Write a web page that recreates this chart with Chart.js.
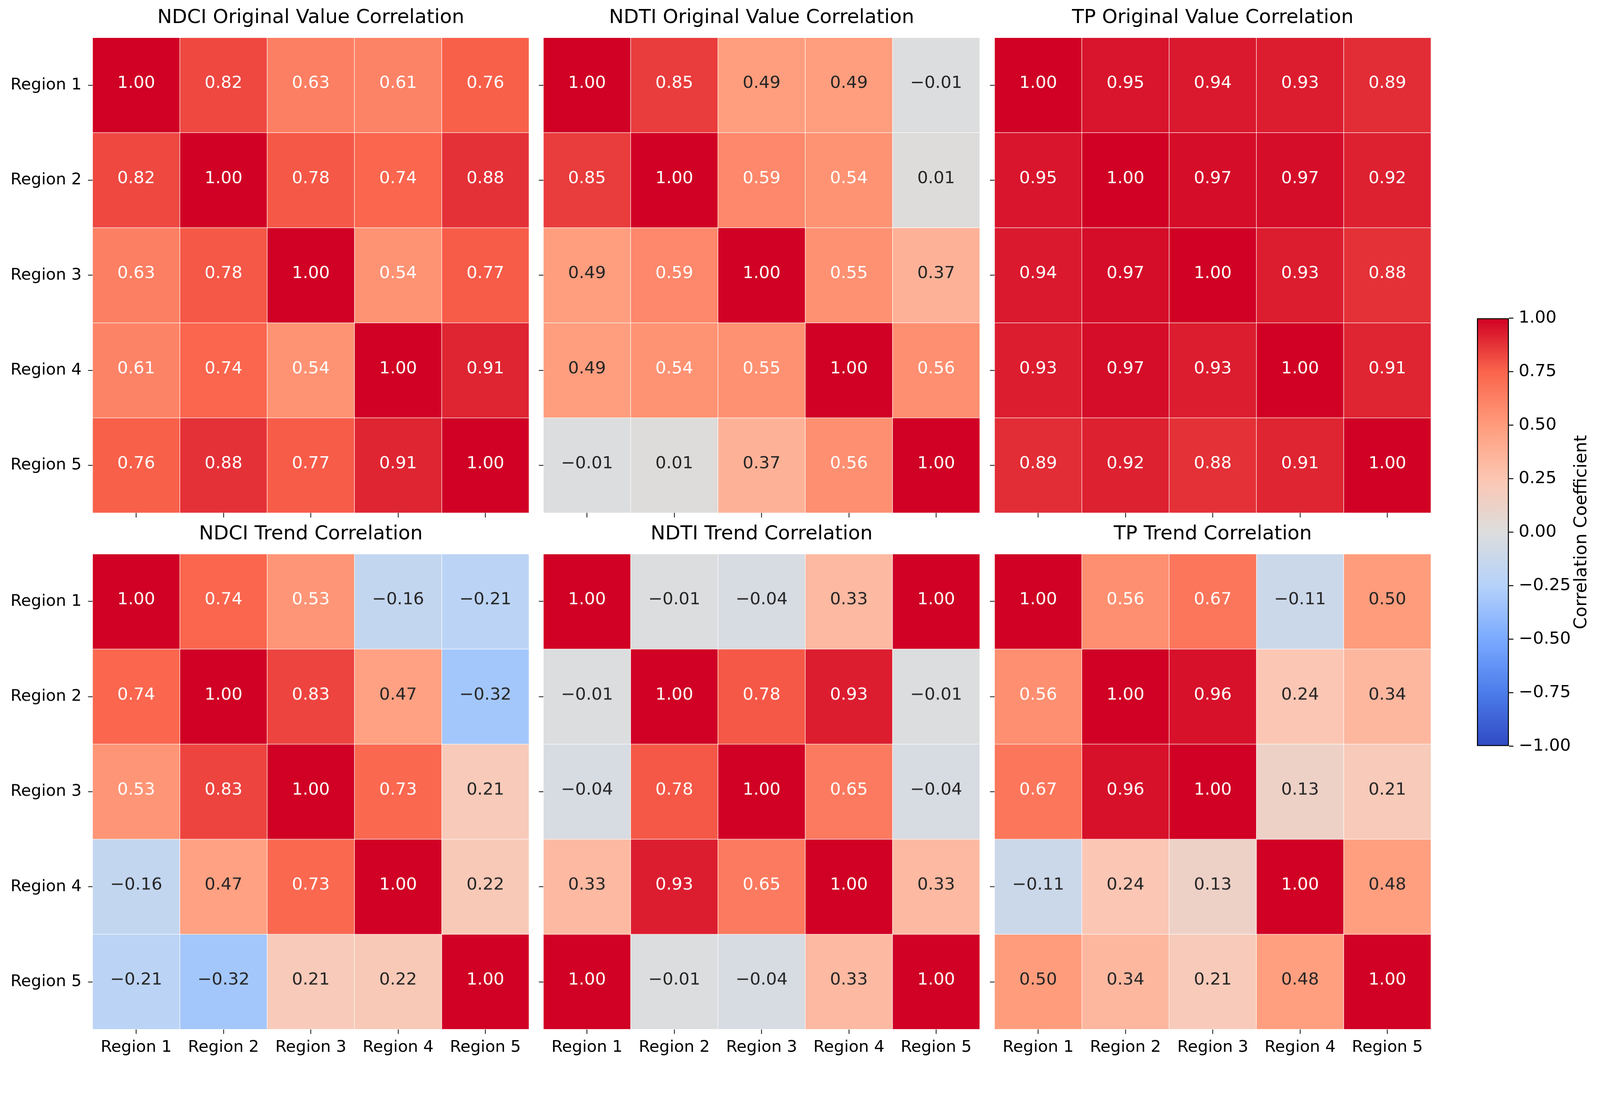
<!DOCTYPE html>
<html><head><meta charset="utf-8">
<script src="https://cdn.jsdelivr.net/npm/chart.js@4.4.1/dist/chart.umd.min.js"></script>
<style>
html,body{margin:0;padding:0;background:#fff;overflow:hidden;}
#wrap{position:relative;overflow:hidden;background:#fff;}
canvas{position:absolute;}
</style></head><body><div id="wrap"></div>
<script>
// ---------------- data ----------------
const regions = ['Region 1','Region 2','Region 3','Region 4','Region 5'];

const ndciOriginal = [
  [1.00, 0.82, 0.63, 0.61, 0.76],
  [0.82, 1.00, 0.78, 0.74, 0.88],
  [0.63, 0.78, 1.00, 0.54, 0.77],
  [0.61, 0.74, 0.54, 1.00, 0.91],
  [0.76, 0.88, 0.77, 0.91, 1.00]
];
const ndtiOriginal = [
  [1.00, 0.85, 0.49, 0.49, -0.01],
  [0.85, 1.00, 0.59, 0.54, 0.01],
  [0.49, 0.59, 1.00, 0.55, 0.37],
  [0.49, 0.54, 0.55, 1.00, 0.56],
  [-0.01, 0.01, 0.37, 0.56, 1.00]
];
const tpOriginal = [
  [1.00, 0.95, 0.94, 0.93, 0.89],
  [0.95, 1.00, 0.97, 0.97, 0.92],
  [0.94, 0.97, 1.00, 0.93, 0.88],
  [0.93, 0.97, 0.93, 1.00, 0.91],
  [0.89, 0.92, 0.88, 0.91, 1.00]
];
const ndciTrend = [
  [1.00, 0.74, 0.53, -0.16, -0.21],
  [0.74, 1.00, 0.83, 0.47, -0.32],
  [0.53, 0.83, 1.00, 0.73, 0.21],
  [-0.16, 0.47, 0.73, 1.00, 0.22],
  [-0.21, -0.32, 0.21, 0.22, 1.00]
];
const ndtiTrend = [
  [1.00, -0.01, -0.04, 0.33, 1.00],
  [-0.01, 1.00, 0.78, 0.93, -0.01],
  [-0.04, 0.78, 1.00, 0.65, -0.04],
  [0.33, 0.93, 0.65, 1.00, 0.33],
  [1.00, -0.01, -0.04, 0.33, 1.00]
];
const tpTrend = [
  [1.00, 0.56, 0.67, -0.11, 0.50],
  [0.56, 1.00, 0.96, 0.24, 0.34],
  [0.67, 0.96, 1.00, 0.13, 0.21],
  [-0.11, 0.24, 0.13, 1.00, 0.48],
  [0.50, 0.34, 0.21, 0.48, 1.00]
];
const panelTitles = [
  'NDCI Original Value Correlation', 'NDTI Original Value Correlation', 'TP Original Value Correlation',
  'NDCI Trend Correlation', 'NDTI Trend Correlation', 'TP Trend Correlation'
];
const colorbarTicks = [-1.00, -0.75, -0.50, -0.25, 0.00, 0.25, 0.50, 0.75, 1.00];
const colorbarLabel = 'Correlation Coefficient';

// ---------------- style ----------------
const FONT = "'DejaVu Sans', sans-serif";
Chart.defaults.font.family = FONT;
Chart.defaults.color = '#000';

// design is laid out on a 4238 x 2819 grid, scaled to the real viewport
const S = (window.innerWidth || 4238) / 4238;
const px = v => v * S;

const wrap = document.getElementById('wrap');
wrap.style.width = px(4238) + 'px';
wrap.style.height = px(2819) + 'px';

const CMAP = [
  [-1.00, [48, 74, 196]],
  [-0.75, [76, 124, 234]],
  [-0.50, [122, 170, 255]],
  [-0.25, [181, 210, 250]],
  [ 0.00, [221, 221, 221]],
  [ 0.25, [252, 198, 178]],
  [ 0.50, [255, 156, 124]],
  [ 0.75, [250, 100, 76]],
  [ 1.00, [208, 1, 36]]
];
function cmap(v) {
  if (v <= CMAP[0][0]) return CMAP[0][1];
  for (let i = 1; i < CMAP.length; i++) {
    if (v <= CMAP[i][0]) {
      const [v0, c0] = CMAP[i-1], [v1, c1] = CMAP[i];
      const t = (v - v0) / (v1 - v0);
      return c0.map((a, k) => Math.round(a + (c1[k] - a) * t));
    }
  }
  return CMAP[CMAP.length-1][1];
}
const rgbStr = c => `rgb(${c[0]},${c[1]},${c[2]})`;
function lum(c) {
  const l = c.map(x => { x /= 255; return x <= 0.04045 ? x/12.92 : Math.pow((x+0.055)/1.055, 2.4); });
  return 0.2126*l[0] + 0.7152*l[1] + 0.0722*l[2];
}
const textColor = v => lum(cmap(v)) > 0.45 ? '#262626' : '#ffffff';
const fmt = v => v.toFixed(2).replace('-', '\u2212');

const cellText = {
  id: 'cellText',
  afterDatasetsDraw(chart) {
    const ctx = chart.ctx;
    ctx.save();
    ctx.font = `${px(45)}px ${FONT}`;
    ctx.textAlign = 'center';
    ctx.textBaseline = 'middle';
    chart.data.datasets.forEach((ds, di) => {
      const meta = chart.getDatasetMeta(di);
      meta.data.forEach((bar, i) => {
        const p = bar.getProps(['x', 'y', 'base'], true);
        const v = ds.values[i];
        ctx.fillStyle = textColor(v);
        ctx.fillText(fmt(v), p.x, (p.y + p.base) / 2 - px(4));
      });
    });
    ctx.restore();
  }
};

function placeCanvas(left, top, W, H) {
  const cv = document.createElement('canvas');
  cv.style.left = left + 'px'; cv.style.top = top + 'px';
  cv.style.width = W + 'px'; cv.style.height = H + 'px';
  cv.width = Math.round(W); cv.height = Math.round(H);
  wrap.appendChild(cv);
  return cv;
}

function makePanel(r, c, matrix, title) {
  const areaLeft = px([245, 1439, 2634][c]), areaTop = px([100, 1468][r]);
  const areaW = px(1156), areaH = px(1259);
  const yW = px(c === 0 ? 240 : 30), xH = px(r === 1 ? 110 : 40), T = px(110), padR = px(10);
  const W = yW + areaW + padR, H = T + areaH + xH;
  const cv = placeCanvas(areaLeft - yW, areaTop - T, W, H);
  const datasets = matrix.map((row, ri) => ({
    data: row.map(() => [ri, ri + 1]),
    values: row,
    backgroundColor: row.map(v => rgbStr(cmap(v))),
    borderColor: '#ffffff', borderWidth: px(1), borderSkipped: false,
    categoryPercentage: 1, barPercentage: 1, grouped: false
  }));
  const tickGrid = { display: true, drawOnChartArea: false, drawTicks: true, tickLength: px(12), tickWidth: px(2), tickColor: '#000', offset: false };
  new Chart(cv, {
    type: 'bar',
    data: { labels: regions, datasets },
    options: {
      responsive: false, maintainAspectRatio: false, animation: false,
      layout: { padding: { left: 0, right: padR, top: 0, bottom: 0 } },
      plugins: {
        legend: { display: false }, tooltip: { enabled: false },
        title: { display: true, text: title, fullSize: false, color: '#000',
          font: { family: FONT, size: px(52), weight: 'normal', lineHeight: 1.2 },
          padding: { top: px(27), bottom: px(20.6) } }
      },
      scales: {
        x: { type: 'category', offset: true, grid: tickGrid, border: { display: false },
          ticks: { display: r === 1, color: '#000', font: { family: FONT, size: px(43) }, padding: px(10), autoSkip: false, maxRotation: 0, minRotation: 0 },
          afterFit: s => { s.height = xH; s.paddingLeft = 0; s.paddingRight = 0; } },
        y: { type: 'linear', min: 0, max: regions.length, reverse: true, grid: tickGrid, border: { display: false },
          afterBuildTicks: s => { s.ticks = regions.map((_, i) => ({ value: i + 0.5 })); },
          ticks: { display: c === 0, color: '#000', font: { family: FONT, size: px(43) }, padding: px(17), autoSkip: false,
            callback: (v, i) => regions[i] },
          afterFit: s => { s.width = yW; s.paddingTop = 0; s.paddingBottom = 0; } }
      }
    },
    plugins: [cellText]
  });
}

const matrices = [ndciOriginal, ndtiOriginal, tpOriginal, ndciTrend, ndtiTrend, tpTrend];
matrices.forEach((m, k) => makePanel(Math.floor(k / 3), k % 3, m, panelTitles[k]));

// ---------------- colorbar ----------------
(function () {
  const left = px(3912), top = px(843), w = px(85), h = px(1134), yW = px(290), pad = px(40);
  const W = w + yW, H = h + 2 * pad;
  const cv = placeCanvas(left, top - pad, W, H);
  const cbLabel = {
    id: 'cbLabel',
    afterDraw(chart) {
      const ctx = chart.ctx, ys = chart.scales.y;
      ctx.save();
      ctx.translate(chart.chartArea.right + px(193), (ys.top + ys.bottom) / 2);
      ctx.rotate(-Math.PI / 2);
      ctx.font = `${px(46)}px ${FONT}`;
      ctx.fillStyle = '#000';
      ctx.textAlign = 'center';
      ctx.textBaseline = 'middle';
      ctx.fillText(colorbarLabel, 0, 0);
      ctx.restore();
    }
  };
  new Chart(cv, {
    type: 'bar',
    data: { labels: [''], datasets: [{
      data: [[colorbarTicks[0], colorbarTicks[colorbarTicks.length - 1]]],
      backgroundColor: (ctx) => {
        const chart = ctx.chart;
        if (!chart.chartArea) return 'rgba(0,0,0,0)';
        const ys = chart.scales.y;
        const g = chart.ctx.createLinearGradient(0, ys.getPixelForValue(-1), 0, ys.getPixelForValue(1));
        CMAP.forEach(([v, col]) => g.addColorStop((v + 1) / 2, rgbStr(col)));
        return g;
      },
      borderColor: '#000', borderWidth: px(3), borderSkipped: false,
      categoryPercentage: 1, barPercentage: 1
    }] },
    options: {
      responsive: false, maintainAspectRatio: false, animation: false,
      layout: { padding: { top: pad, bottom: pad, left: 0, right: 0 } },
      plugins: { legend: { display: false }, tooltip: { enabled: false } },
      scales: {
        x: { display: false, offset: true },
        y: { position: 'right', min: -1, max: 1,
          afterBuildTicks: s => { s.ticks = colorbarTicks.map(v => ({ value: v })); },
          ticks: { callback: v => fmt(v), color: '#000', font: { family: FONT, size: px(45) }, padding: px(14), autoSkip: false },
          grid: { display: true, drawOnChartArea: false, drawTicks: true, tickLength: px(12), tickWidth: px(2.5), tickColor: '#000' },
          border: { display: false },
          afterFit: s => { s.width = yW; s.paddingTop = 0; s.paddingBottom = 0; } }
      }
    },
    plugins: [cbLabel]
  });
})();
</script>
</body></html>
